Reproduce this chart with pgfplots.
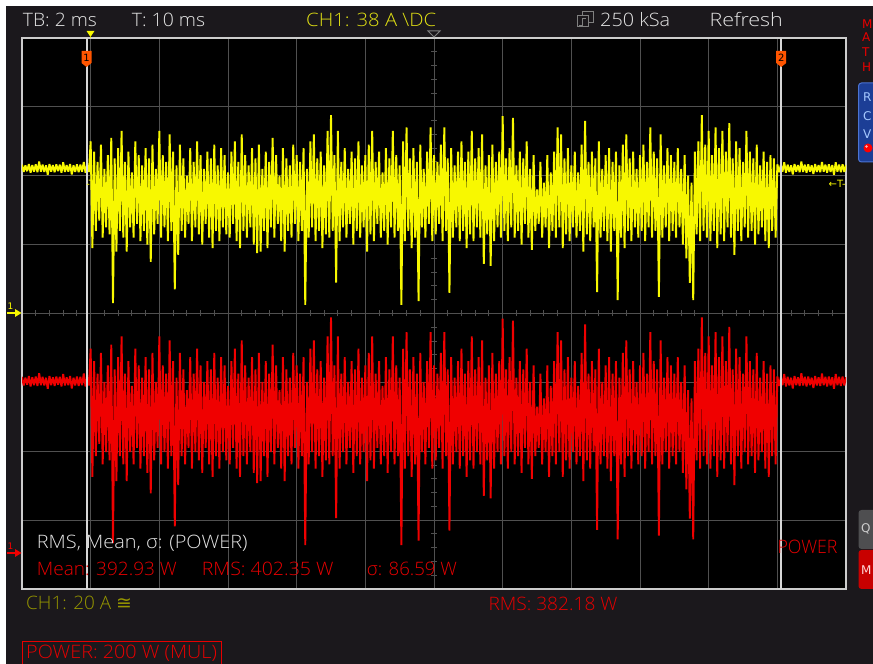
\documentclass[border=0pt]{standalone}
\usepackage{pgfplots}
\usepackage{pgfplotstable}
\pgfplotsset{compat=1.18}
\usepackage{fontspec}
\IfFontExistsTF{Open Sans Light}{\setmainfont{Open Sans Light}}{%
  \IfFontExistsTF{Lato Light}{\setmainfont{Lato Light}}{\setmainfont{DejaVu Sans}}}
\newfontfamily\djv{DejaVu Sans}
\definecolor{bg}{RGB}{27,24,28}
\definecolor{gridc}{RGB}{80,80,80}
\definecolor{framec}{RGB}{205,205,205}
\definecolor{trY}{RGB}{248,248,0}
\definecolor{trR}{RGB}{240,0,0}
\definecolor{txR}{RGB}{232,0,0}
\definecolor{txW}{RGB}{228,228,228}
\definecolor{txY}{RGB}{225,225,20}
\definecolor{txO}{RGB}{150,150,0}
\definecolor{curc}{RGB}{215,215,215}
\definecolor{curlab}{RGB}{255,85,0}
\definecolor{bluep}{RGB}{28,62,150}
\definecolor{bluer}{RGB}{75,115,210}
\definecolor{bluet}{RGB}{165,200,255}
\newcommand\fw[2]{\resizebox{#1bp}{\height}{#2}}
\newcommand\stf{\fontsize{18.5bp}{20bp}\selectfont}

% CH1 current (A) vs time (ms); zigzag of per-column max/min as the scope draws it
\pgfplotstableread{
t I
-2.00 43.2
-1.95 41.1
-1.90 43.0
-1.85 41.3
-1.80 43.4
-1.75 40.9
-1.70 43.1
-1.65 41.2
-1.60 43.3
-1.55 41.0
-1.50 44.1
-1.45 41.2
-1.40 43.2
-1.35 41.1
-1.30 43.0
-1.25 40.3
-1.20 43.4
-1.15 41.2
-1.10 43.1
-1.05 41.0
-1.00 43.3
-0.95 41.3
-0.90 43.2
-0.85 40.9
-0.80 43.9
-0.75 41.1
-0.70 43.1
-0.65 41.2
-0.60 43.4
-0.55 40.4
-0.50 43.0
-0.45 41.1
-0.40 43.3
-0.35 41.0
-0.30 43.2
-0.25 41.2
-0.20 44.0
-0.15 40.9
-0.10 43.1
-0.05 41.1
0.00 50
0.05 19
0.10 47
0.15 24
0.20 44
0.25 27
0.30 49
0.35 22
0.40 42
0.45 25
0.50 46
0.55 23
0.60 51
0.65 3
0.70 45
0.75 18
0.80 48
0.85 24
0.90 53
0.95 22
1.00 44
1.05 18
1.10 47
1.15 25
1.20 41
1.25 22
1.30 50
1.35 26
1.40 46
1.45 21
1.50 43
1.55 24
1.60 48
1.65 20
1.70 45
1.75 15
1.80 49
1.85 23
1.90 42
1.95 26
2.00 53
2.05 22
2.10 46
2.15 25
2.20 44
2.25 21
2.30 52
2.35 24
2.40 47
2.45 7
2.50 43
2.55 17
2.60 49
2.65 24
2.70 45
2.75 22
2.80 40
2.85 26
2.90 48
2.95 21
3.00 44
3.05 25
3.10 50
3.15 23
3.20 46
3.25 20
3.30 42
3.35 26
3.40 47
3.45 22
3.50 45
3.55 19
3.60 49
3.65 24
3.70 43
3.75 21
3.80 48
3.85 25
3.90 46
3.95 23
4.00 41
4.05 22
4.10 47
4.15 26
4.20 50
4.25 21
4.30 44
4.35 19
4.40 52
4.45 24
4.50 46
4.55 22
4.60 43
4.65 25
4.70 48
4.75 20
4.80 45
4.85 17.5
4.90 49
4.95 18
5.00 42
5.05 24
5.10 47
5.15 19
5.20 44
5.25 25
5.30 51
5.35 22
5.40 46
5.45 26
5.50 40
5.55 21
5.60 48
5.65 18
5.70 45
5.75 24
5.80 43
5.85 22
5.90 49
5.95 26
6.00 46
6.05 21
6.10 44
6.15 24
6.20 48
6.25 2.5
6.30 42
6.35 22
6.40 50
6.45 25
6.50 52
6.55 21
6.60 45
6.65 24
6.70 47
6.75 19
6.80 43
6.85 23
6.90 53
6.95 22
7.00 57.6
7.05 24
7.10 46
7.15 9
7.20 53
7.25 21
7.30 44
7.35 25
7.40 48
7.45 22
7.50 42
7.55 26
7.60 47
7.65 20
7.70 45
7.75 24
7.80 50
7.85 22
7.90 43
7.95 25
8.00 46
8.05 18
8.10 49
8.15 23
8.20 53
8.25 21
8.30 44
8.35 26
8.40 47
8.45 22
8.50 41
8.55 24
8.60 48
8.65 20
8.70 45
8.75 25
8.80 53
8.85 22
8.90 46
8.95 24
9.00 43
9.05 2.5
9.10 50
9.15 21
9.20 54
9.25 24
9.30 45
9.35 19
9.40 48
9.45 22
9.50 44
9.55 3.6
9.60 49
9.65 25
9.70 42
9.75 22
9.80 47
9.85 26
9.90 54
9.95 21
10.00 46
10.05 23
10.10 44
10.15 26
10.20 49
10.25 21
10.30 54
10.35 24
10.40 45
10.45 6
10.50 48
10.55 22
10.60 43
10.65 25
10.70 47
10.75 21
10.80 50
10.85 24
10.90 44
10.95 19
11.00 47
11.05 23
11.10 53
11.15 21
11.20 45
11.25 25
11.30 48
11.35 22
11.40 52
11.45 14.4
11.50 43
11.55 23
11.60 46
11.65 13.8
11.70 49
11.75 21
11.80 44
11.85 25
11.90 47
11.95 22
12.00 57.3
12.05 24
12.10 45
12.15 21
12.20 48
12.25 25
12.30 56.8
12.35 22
12.40 43
12.45 24
12.50 47
12.55 20
12.60 45
12.65 26
12.70 50
12.75 22
12.80 42
12.85 18.5
12.90 46
12.95 24
13.00 36
13.05 26
13.10 44
13.15 22
13.20 38
13.25 25
13.30 46
13.35 19
13.40 41
13.45 24
13.50 47
13.55 22
13.60 54
13.65 25
13.70 52
13.75 19
13.80 45
13.85 23
13.90 48
13.95 21
14.00 43
14.05 25
14.10 47
14.15 22
14.20 41
14.25 24
14.30 49
14.35 18
14.40 55.9
14.45 23
14.50 44
14.55 21
14.60 47
14.65 25
14.70 45
14.75 6.2
14.80 50
14.85 22
14.90 42
14.95 24
15.00 46
15.05 21
15.10 48
15.15 18
15.20 44
15.25 24
15.30 47
15.35 3.9
15.40 43
15.45 22
15.50 49
15.55 19
15.60 52
15.65 24
15.70 45
15.75 21
15.80 47
15.85 25
15.90 42
15.95 22
16.00 46
16.05 24
16.10 49
16.15 21
16.20 44
16.25 25
16.30 54
16.35 22
16.40 47
16.45 24
16.50 45
16.55 4.8
16.60 52
16.65 22
16.70 43
16.75 25
16.80 48
16.85 21
16.90 46
16.95 24
17.00 44
17.05 22
17.10 48
17.15 25
17.20 42
17.25 20
17.30 46
17.35 16
17.40 40
17.45 8.9
17.50 38
17.55 3.9
17.60 47
17.65 23
17.70 50
17.75 21
17.80 57.6
17.85 24
17.90 49
17.95 22
18.00 53
18.05 21
18.10 46
18.15 24
18.20 54
18.25 19
18.30 48
18.35 23
18.40 53
18.45 21
18.50 47
18.55 25
18.60 55.3
18.65 22
18.70 45
18.75 17
18.80 50
18.85 24
18.90 48
18.95 21
19.00 44
19.05 25
19.10 53
19.15 22
19.20 47
19.25 24
19.30 45
19.35 20
19.40 49
19.45 23
19.50 43
19.55 25
19.60 47
19.65 21
19.70 44
19.75 19
19.80 46
19.85 24
19.90 45
19.95 22
20.00 43.3
20.05 41.0
20.10 43.1
20.15 41.2
20.20 43.9
20.25 40.9
20.30 43.2
20.35 41.1
20.40 43.0
20.45 40.4
20.50 43.4
20.55 41.2
20.60 43.1
20.65 41.0
20.70 44.1
20.75 41.1
20.80 43.2
20.85 40.9
20.90 43.3
20.95 41.2
21.00 43.0
21.05 40.5
21.10 43.4
21.15 41.1
21.20 43.1
21.25 41.0
21.30 44.0
21.35 41.2
21.40 43.2
21.45 40.9
21.50 43.3
21.55 41.1
21.60 43.1
21.65 40.3
21.70 43.9
21.75 41.2
21.80 43.2
21.85 41.0
21.90 43.3
21.95 41.1
22.00 43.1
}\cur

\begin{document}
\begin{tikzpicture}[x=1bp,y=1bp]
\useasboundingbox (0,0) rectangle (873,664);
\clip (0,0) rectangle (873,664);
\fill[bg] (0,0) rectangle (873,664);
\fill[white] (0,658) rectangle (873,664);
\fill[white] (0,0) rectangle (6,664);

% CH1 (current) axis: 20 A/div, 2 ms/div
\begin{axis}[at={(22bp,75bp)}, anchor=south west, scale only axis,
  width=824bp, height=551bp, xmin=-2, xmax=22, ymin=-80, ymax=80,
  xtick={-2,0,...,22}, ytick={-80,-60,...,80}, xticklabels={}, yticklabels={},
  major tick length=0pt, grid=major, major grid style={gridc, line width=1bp},
  axis background/.style={fill=black}, axis line style={framec, line width=1.6bp}]
\pgfplotsinvokeforeach{1,...,59}{\draw[gridc, line width=1bp] (axis cs:{-2+#1*0.4},-0.87) -- (axis cs:{-2+#1*0.4},0.87);}
\pgfplotsinvokeforeach{1,...,39}{\draw[gridc, line width=1bp] (axis cs:9.913,{-80+#1*4}) -- (axis cs:10.087,{-80+#1*4});}
\addplot[trY, line width=1.9bp, line join=bevel, mark=none] table[x=t, y=I] {\cur};
\end{axis}

% POWER (MUL) axis: same samples, scaled by the constant supply voltage
\begin{axis}[at={(22bp,75bp)}, anchor=south west, scale only axis,
  width=824bp, height=551bp, xmin=-2, xmax=22, ymin=-8.13, ymax=125.2, hide axis]
\addplot[trR, line width=1.9bp, line join=bevel, mark=none] table[x=t, y=I] {\cur};
\end{axis}

% cursors
\draw[curc, line width=2bp] (86.5,75) -- (86.5,626);
\draw[curc, line width=2bp] (781.2,75) -- (781.2,626);
\fill[curlab] (81.5,613) -- (91.5,613) -- (91.5,601) -- (86.5,597) -- (81.5,601) -- cycle;
\node[font=\djv\fontsize{10bp}{10bp}\selectfont, text=black, inner sep=0pt] at (86.5,606.5) {1};
\fill[curlab] (776.2,613) -- (786.2,613) -- (786.2,601) -- (781.2,597) -- (776.2,601) -- cycle;
\node[font=\djv\fontsize{10bp}{10bp}\selectfont, text=black, inner sep=0pt] at (781.2,606.5) {2};

% top markers
\fill[trY] (86.5,633) -- (94.5,633) -- (90.5,627) -- cycle;
\draw[trY, line width=1bp] (90.5,627) -- (90.5,626);
\draw[gray, line width=1bp] (428,633) -- (440,633) -- (434,627) -- cycle;

% trigger level markers
\node[text=trY, font=\djv\fontsize{10bp}{10bp}\selectfont, inner sep=0pt] at (92,480) {-T-};
\node[text=trY, font=\djv\fontsize{10bp}{10bp}\selectfont, inner sep=0pt, anchor=east] at (846,480) {←T-};

% channel ground markers
\node[text=trY, font=\djv\fontsize{9bp}{9bp}\selectfont, inner sep=0pt] at (10.5,358) {1};
\draw[trY, line width=1.3bp] (7,351) -- (16,351);
\fill[trY] (15,355) -- (21.5,351) -- (15,347) -- cycle;
\node[text=trR, font=\djv\fontsize{9bp}{9bp}\selectfont, inner sep=0pt] at (10.5,118) {1};
\draw[trR, line width=1.3bp] (7,111) -- (16,111);
\fill[trR] (15,115) -- (21.5,111) -- (15,107) -- cycle;

% top bar
\node[anchor=base west, inner sep=0pt, text=txW, font=\stf] at (22.7,637.5) {\fw{74}{TB: 2 ms}};
\node[anchor=base west, inner sep=0pt, text=txW, font=\stf] at (131.7,637.5) {\fw{73.3}{T: 10 ms}};
\node[anchor=base west, inner sep=0pt, text=txY, font=\stf] at (306,637.5) {\fw{130}{CH1: 38 A \textbackslash DC}};
\draw[gray, line width=1bp] (582,652) rectangle (593,641);
\fill[bg] (577,648) rectangle (588,637);
\draw[gray, line width=1bp] (577,648) rectangle (588,637);
\draw[gray, line width=0.8bp] (579,639) -- (582,639) -- (582,646) -- (586,646);
\node[anchor=base west, inner sep=0pt, text=txW, font=\stf] at (600,637.5) {\fw{70}{250 kSa}};
\node[anchor=base west, inner sep=0pt, text=txW, font=\stf] at (709.3,637.5) {\fw{73.4}{Refresh}};

% right side panels
\node[anchor=west, inner sep=0pt, text=txR, font=\djv\fontsize{12bp}{12bp}\selectfont] at (862,640) {M};
\node[anchor=west, inner sep=0pt, text=txR, font=\djv\fontsize{12bp}{12bp}\selectfont] at (862,626.5) {A};
\node[anchor=west, inner sep=0pt, text=txR, font=\djv\fontsize{12bp}{12bp}\selectfont] at (862,612) {T};
\node[anchor=west, inner sep=0pt, text=txR, font=\djv\fontsize{12bp}{12bp}\selectfont] at (862,596.5) {H};
\filldraw[fill=bluep, draw=bluer, line width=1bp, rounded corners=3bp] (858.5,502) rectangle (890,581);
\node[anchor=west, inner sep=0pt, text=bluet, font=\djv\fontsize{12bp}{12bp}\selectfont] at (863,567) {R};
\node[anchor=west, inner sep=0pt, text=bluet, font=\djv\fontsize{12bp}{12bp}\selectfont] at (863,548) {C};
\node[anchor=west, inner sep=0pt, text=bluet, font=\djv\fontsize{12bp}{12bp}\selectfont] at (863,530) {V};
\fill[red] (868,516) circle (4.5bp);
\fill[white!70!red] (866.5,517.5) circle (1.3bp);
\fill[rounded corners=3bp, fill={rgb,255:red,78;green,78;blue,80}] (858.5,115) rectangle (890,154);
\node[anchor=west, inner sep=0pt, text={rgb,255:red,205;green,205;blue,205}, font=\djv\fontsize{12bp}{12bp}\selectfont] at (861,135) {Q};
\fill[rounded corners=3bp, fill={rgb,255:red,200;green,0;blue,0}] (858.5,75) rectangle (890,114);
\node[anchor=west, inner sep=0pt, text={rgb,255:red,255;green,215;blue,215}, font=\djv\fontsize{12bp}{12bp}\selectfont] at (861,94) {M};

% measurement texts inside the grid
\node[anchor=base west, inner sep=0pt, text=txW, font=\stf] at (36.7,115) {\fw{210.6}{RMS, Mean, σ: (POWER)}};
\node[anchor=base west, inner sep=0pt, text=txR, font=\stf] at (36.7,88) {\fw{140}{Mean: 392.93 W}};
\node[anchor=base west, inner sep=0pt, text=txR, font=\stf] at (201.7,88) {\fw{131.6}{RMS: 402.35 W}};
\node[anchor=base west, inner sep=0pt, text=txR, font=\stf] at (366.7,88) {\fw{90}{σ: 86.59 W}};
\node[anchor=base west, inner sep=0pt, text=txR, font=\stf] at (777.3,110) {\fw{60}{POWER}};

% bottom bar
\node[anchor=base west, inner sep=0pt, text=txO, font=\stf] at (26,54) {\fw{105.7}{CH1: 20 A {\djv ≅}}};
\node[anchor=base west, inner sep=0pt, text=txR, font=\stf] at (488.3,53.5) {\fw{129}{RMS: 382.18 W}};
\draw[txR, line width=1.5bp] (22.7,-3) rectangle (221.7,22.3);
\node[anchor=base west, inner sep=0pt, text=txR, font=\stf] at (26,5) {\fw{190.7}{POWER: 200 W (MUL)}};
\end{tikzpicture}
\end{document}
